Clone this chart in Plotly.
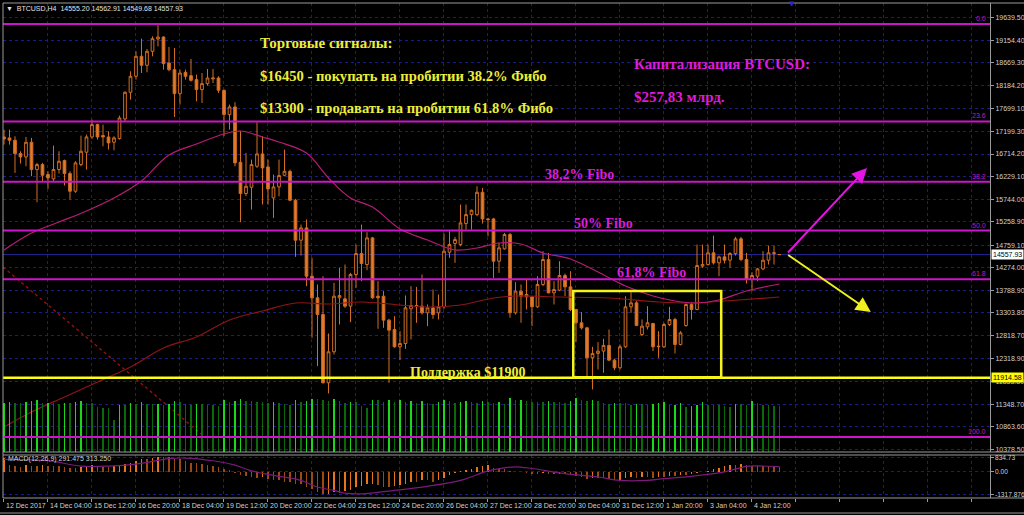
import plotly.graph_objects as go

W, H = 1024, 515
def px(x): return x / W
def py(y): return 1 - y / H

# ---------------- data ----------------
opens = [17081,17060,17010,16724,16652,16967,16381,16488,16274,16181,
         16381,16574,16295,15916,16488,16753,17081,17346,17110,17081,
         16967,17046,17467,18039,18382,18811,18618,18918,19182,19225,
         18668,18525,18010,18468,18396,18311,18096,18225,18325,18346,
         18082,17560,17725,16538,15866,16002,16452,16717,16437,15773,
         16009,16259,16344,15723,14865,15129,14093,13629,13271,11806,
         12471,13629,13607,13450,14129,14579,14343,14915,13664,13664,
         13150,12950,12578,12649,13393,13450,13450,13307,13414,13307,
         13436,14608,14794,14772,15222,15415,15415,15894,15322,15322,
         14415,14679,14987,13307,13772,13700,13650,13436,13915,14451,
         13736,13793,14108,13864,13379,13093,12985,12342,12435,12485,
         12607,12292,12128,12578,13436,13521,12842,13007,13078,12578,
         12578,13057,13164,12628,13035,13486,13379,14308,14343,14594,
         14379,14508,14436,14579,14894,14451,14022,14093,14250,14436,
         14579,14555.20]
highs = [17238,17238,17096,16774,17081,17060,16524,16524,16345,16895,
         16774,16595,16345,16560,17110,17131,17453,17367,17346,17203,
         17096,17539,18060,18489,18918,19190,18968,19240,19490,19240,
         19011,18990,18525,18525,18754,18418,18453,18539,18539,18382,
         18096,17775,17825,17203,16738,16595,17396,17096,16595,16273,
         16595,16809,16380,15751,15201,15308,14486,13915,14093,12864,
         13950,14272,14343,14165,14772,15201,15037,14937,13986,13772,
         13178,13236,12914,13679,13879,13864,14129,13486,13807,13700,
         15008,15058,14937,15630,15630,15523,16023,15987,15344,15344,
         14808,15022,15022,13965,13915,14036,13664,14093,14629,14594,
         13986,14415,14150,14200,13393,13321,13007,12578,12678,12749,
         12950,12321,12628,13664,13750,13557,13164,13450,13093,12914,
         13093,13436,13200,12914,13507,13536,14772,14772,14772,14965,
         14536,14772,14608,14937,14937,14594,14179,14272,14629,14751,
         14751,14562.91]
lows = [16917,16917,16309,16509,16452,16238,15680,16131,15966,16131,
        16295,16038,15738,15881,16452,16381,17038,17024,16881,16810,
        16795,17024,17417,17882,18311,18453,18468,18811,19025,18525,
        18489,17510,17775,18311,18268,17846,17810,18182,18239,18025,
        17096,17238,16452,15252,15809,15523,16417,15630,15630,15344,
        15808,16237,15701,14508,14536,13879,12771,12163,11790,11577,
        12414,13057,13414,13107,13843,13986,14222,13607,12964,12985,
        11806,12557,12292,12535,12735,13093,13271,13021,13178,13164,
        13393,14486,14379,14736,15094,15094,15380,15222,14951,14057,
        14165,14665,13200,13271,13093,13379,13021,13414,13879,13722,
        13486,13772,13664,13343,12678,12950,11913,11663,12092,12020,
        12271,12078,12092,12557,13307,13021,12807,12950,12485,12342,
        12557,13021,12435,12607,13007,13164,13364,14272,14322,14343,
        14093,14365,14272,14536,14415,13936,13772,13986,14222,14343,
        14343,14549.68]
closes = [17038,17010,16724,16652,16967,16381,16488,16259,16202,16381,
          16560,16295,15916,16524,16774,17081,17346,17081,17081,16953,
          17060,17489,18039,18382,18811,18618,18918,19190,19225,18654,
          18525,18010,18453,18382,18296,18096,18225,18346,18346,18082,
          17560,17725,16524,15866,16023,16488,16717,16417,15966,16009,
          16252,16344,15723,14865,15129,14093,13629,13271,11806,12471,
          13664,13679,13450,14129,14579,14365,14915,13629,13629,13150,
          12935,12578,12649,13414,13464,13464,13307,13414,13271,13436,
          14629,14772,14879,15237,15415,15508,15894,15322,15308,14415,
          14701,14987,13307,13772,13664,13650,13436,13915,14451,13736,
          13807,14108,13864,13379,13093,12985,12342,12435,12485,12607,
          12292,12128,12578,13436,13521,13035,13021,13093,12578,12590,
          13057,13164,12628,12878,13486,13379,14322,14343,14594,14379,
          14508,14436,14579,14894,14451,14022,14108,14250,14436,14594,
          14594,14557.93]
volumes = [1184,1200,1176,1176,1200,1224,1240,1176,1184,1184,
           1160,1176,1176,1200,1224,1184,1184,1080,1064,1064,
           760,1120,1120,1176,1160,1200,1160,1144,1160,1120,
           1144,1224,1200,1160,1136,1160,1160,1136,1120,1104,
           1240,1200,1216,1264,1216,1216,1200,1200,1184,1200,
           1184,1160,1120,1240,1200,1216,1280,1264,1240,1216,
           1272,1216,1184,1200,1200,1104,1064,1240,1240,1200,
           1240,1200,1240,1200,1216,1176,1216,1176,1160,1200,
           1240,1216,1184,1200,1216,1200,1176,1216,1200,1184,
           1200,1160,1296,1240,1256,1216,1200,1200,1200,1216,
           1200,1200,1184,1216,1296,1240,1216,1240,1216,1176,
           1160,1176,1176,1176,1120,1160,1160,1136,1160,1184,
           1192,1120,1136,1184,1080,1104,1120,1200,1136,1120,
           1120,1104,1080,1160,1160,1136,1216,1184,1136,1120,
           1104,1096]
macd_hist = [795,397,338,298,397,338,338,397,338,338,
             338,298,238,238,298,338,397,338,298,298,
             338,397,457,537,656,735,735,795,894,854,
             854,735,735,656,537,497,457,397,338,298,
             199,139,-60,-199,-258,-298,-338,-298,-397,-457,
             -497,-596,-596,-735,-735,-894,-994,-1192,-1318,-1290,
             -1190,-1252,-1133,-1053,-894,-854,-735,-695,-795,-894,
             -894,-854,-795,-695,-596,-596,-497,-497,-596,-497,
             -338,-199,-60,60,139,199,298,338,397,258,
             199,199,60,20,10,-60,-99,-99,-60,-99,
             -139,-99,-139,-199,-258,-298,-397,-338,-338,-338,
             -397,-497,-457,-338,-298,-338,-298,-298,-338,-298,
             -298,-258,-258,-199,-199,-139,-60,10,60,199,
             258,338,397,397,457,397,338,338,338,338,
             338,291.475]
signal_x = [0,8,14,19,24,30,33,38,42,45,49,54,57,60,62,65,71,77,83,88,91,93,96,102,108,112,117,120,125,131,135,137,141]
signal_v = [735,660,340,340,460,775,815,656,400,60,-200,-500,-890,-1090,-1250,-1290,-1090,-850,-500,60,240,300,200,-100,-300,-500,-500,-400,-260,0,330,350,313.25]

ma_fast_x = [0,5,10,15,20,25,30,35,40,43,47,50,55,59,63,67,72,77,82,86,90,94,98,103,108,113,118,122,126,130,135,141]
ma_fast_v = [14655,15020,15256,15492,15771,16136,16693,16930,17144,17208,17080,16972,16736,16200,15771,15578,15106,14870,14655,14698,14805,14784,14591,14462,14183,13883,13668,13561,13518,13582,13775,13925]
ma_slow_x = [0,5,11,17,23,29,35,41,47,53,59,65,71,77,83,89,93,101,110,119,125,131,141]
ma_slow_v = [10857,11179,11501,11823,12144,12552,12788,13153,13346,13518,13496,13539,13486,13432,13475,13625,13668,13646,13625,13539,13518,13561,13646]

trend_x = [-0.18, 36.5]
trend_v = [14290, 10642]

fibo_levels = ["0.0", "23.6", "38.2", "50.0", "61.8", "100.0"]
fibo_prices = [19504, 17413, 16119, 15073, 14027, 10642]
support_price = 11914.58
last_price = 14557.93
box_x = [103.5, 130.4]
box_y = [11925, 13775]
arrow_up = [(142.3, 14569), (156.9, 16414)]
arrow_down = [(142.3, 14569), (157.6, 13325)]

price_ticks = [19639.50,19154.40,18669.30,18184.20,17699.10,17199.30,16714.20,16229.10,15744.00,15258.90,
               14759.10,14274.00,13788.90,13303.80,12818.70,12318.90,11833.80,11348.70,10863.60,10378.50]
macd_ticks = [834.73, 0.0, -1317.876]
macd_ticktext = ["834.73", "0.00", "-1317.876"]
date_idx = [0,8,16,24,32,40,48,56,64,72,80,88,96,104,112,120,128,136]
date_text = ["12 Dec 2017","14 Dec 04:00","15 Dec 12:00","16 Dec 20:00","18 Dec 04:00","19 Dec 12:00",
             "20 Dec 20:00","22 Dec 04:00","23 Dec 12:00","24 Dec 20:00","26 Dec 04:00","27 Dec 12:00",
             "28 Dec 20:00","30 Dec 04:00","31 Dec 12:00","1 Jan 20:00","3 Jan 04:00","4 Jan 12:00"]

# ---------------- styling ----------------
n = len(opens)
idx = list(range(n))
X0, X1 = -0.18, 179.27
TICK_OFF = -0.15
grid_vals = [k * 8 + TICK_OFF for k in range(0, 23)]
GRID = "#1c1c86"
AX = "#9a9a9a"
TXT = "#d0d0d0"
SMALL = dict(family="Liberation Sans", size=7, color=TXT)

vol_colors = ["#18d818" if (i == 0 or volumes[i] > volumes[i - 1]) else "#0a6a0a" for i in range(n)]
macd_colors = ["#e8741c" if (i == 0 or macd_hist[i] > macd_hist[i - 1]) else "#9a4a12" for i in range(n)]

fig = go.Figure()
fig.add_trace(go.Bar(x=idx, y=volumes, xaxis="x", yaxis="y3", width=0.32,
                     marker=dict(color=vol_colors, line=dict(width=0)), showlegend=False))
fig.add_trace(go.Scatter(x=trend_x, y=trend_v, mode="lines", xaxis="x", yaxis="y",
                         line=dict(color="#a01010", width=1.3, dash="3px,3px"), showlegend=False))
fig.add_trace(go.Scatter(x=ma_slow_x, y=ma_slow_v, mode="lines", line_shape="spline",
                         line=dict(color="#8e1418", width=1.2), showlegend=False))
fig.add_trace(go.Scatter(x=ma_fast_x, y=ma_fast_v, mode="lines", line_shape="spline",
                         line=dict(color="#b81c78", width=1.2), showlegend=False))
fig.add_trace(go.Candlestick(x=idx, open=opens, high=highs, low=lows, close=closes,
                             xaxis="x", yaxis="y", whiskerwidth=0,
                             increasing=dict(line=dict(color="#d26e24", width=1), fillcolor="#000000"),
                             decreasing=dict(line=dict(color="#d26e24", width=1), fillcolor="#e27a2e"),
                             showlegend=False))
fig.add_trace(go.Bar(x=idx, y=macd_hist, xaxis="x2", yaxis="y2", width=0.32,
                     marker=dict(color=macd_colors, line=dict(width=0)), showlegend=False))
fig.add_trace(go.Scatter(x=signal_x, y=signal_v, mode="lines", xaxis="x2", yaxis="y2", line_shape="spline",
                         line=dict(color="#7a1a7a", width=1.2), showlegend=False))

main_dom = [py(452), py(3)]
macd_dom = [py(498), py(455)]
xdom = [px(3), px(990)]

fig.update_layout(
    width=W, height=H, margin=dict(l=0, r=0, t=0, b=0),
    paper_bgcolor="#000000", plot_bgcolor="#000000",
    showlegend=False, bargap=0, hovermode=False,
    xaxis=dict(domain=xdom, range=[X0, X1], anchor="y", showticklabels=False,
               tickvals=grid_vals, showgrid=True, gridcolor=GRID, griddash="3px,3px", gridwidth=1,
               zeroline=False, showline=False, rangeslider=dict(visible=False), fixedrange=True),
    yaxis=dict(domain=main_dom, range=[10320.6, 19955], side="right", anchor="x",
               tickvals=price_ticks, ticktext=[f"{v:.2f}" for v in price_ticks],
               tickfont=SMALL, ticks="outside", ticklen=3, tickcolor=AX,
               showgrid=True, gridcolor=GRID, griddash="3px,3px", gridwidth=1,
               zeroline=False, showline=True, linecolor=AX, linewidth=1, automargin=False),
    yaxis3=dict(overlaying="y", range=[0, 10776], visible=False, anchor="x"),
    xaxis2=dict(domain=xdom, range=[X0, X1], anchor="y2", showticklabels=False,
                tickvals=grid_vals, showgrid=True, gridcolor=GRID, griddash="3px,3px",
                ticks="outside", ticklen=3, tickcolor=AX,
                zeroline=False, showline=False, fixedrange=True),
    yaxis2=dict(domain=macd_dom, range=[-1536, 994], side="right", anchor="x2",
                tickvals=macd_ticks, showticklabels=False,
                ticks="outside", ticklen=3, tickcolor=AX,
                showgrid=True, gridcolor=GRID, griddash="3px,3px",
                zeroline=False, showline=True, linecolor=AX, automargin=False),
)

shapes = []
# current price line
shapes.append(dict(type="line", xref="paper", yref="y", x0=px(3), x1=px(990), y0=last_price, y1=last_price,
                   line=dict(color="#22228e", width=1), layer="below"))
# fibo lines
for p in fibo_prices:
    shapes.append(dict(type="line", xref="paper", yref="y", x0=px(3), x1=px(990), y0=p, y1=p,
                       line=dict(color="#cc14cc", width=2), layer="above"))
# support line
shapes.append(dict(type="line", xref="paper", yref="y", x0=px(3), x1=px(990), y0=support_price, y1=support_price,
                   line=dict(color="#ffff10", width=2.5), layer="above"))
# yellow box
shapes.append(dict(type="rect", xref="x", yref="y", x0=box_x[0], x1=box_x[1], y0=box_y[0], y1=box_y[1],
                   line=dict(color="#f4f41c", width=2.5), fillcolor="rgba(0,0,0,0)", layer="above"))
# frame
frame = [(3, 3, 1024, 3), (3, 3, 3, 498), (3, 452, 1024, 452), (3, 455, 1024, 455),
         (3, 498, 1024, 498), (0, 513, 1024, 513)]
for x0, y0, x1, y1 in frame:
    shapes.append(dict(type="line", xref="paper", yref="paper", x0=px(x0), y0=py(y0), x1=px(x1), y1=py(y1),
                       line=dict(color=AX, width=1), layer="above"))
fig.update_layout(shapes=shapes)

ann = []
# date labels
for i, t in zip(date_idx, date_text):
    ann.append(dict(x=i + TICK_OFF, xref="x2", y=py(505), yref="paper", text=t, showarrow=False,
                    xanchor="left", yanchor="middle", font=SMALL, xshift=1))
# macd axis labels
for v, t in zip(macd_ticks, macd_ticktext):
    ann.append(dict(x=px(993), xref="paper", y=v, yref="y2", text=t, showarrow=False,
                    xanchor="left", yanchor="middle", font=dict(family="Liberation Sans", size=6.6, color=TXT)))
# fibo level labels
for lab, p in zip(fibo_levels, fibo_prices):
    ann.append(dict(x=px(988), xref="paper", y=p, yref="y", text=lab, showarrow=False,
                    xanchor="right", yanchor="bottom", font=dict(family="Liberation Sans", size=7, color="#c414c4")))
# right-axis highlighted labels
ann.append(dict(x=px(991), xref="paper", y=last_price, yref="y", text=f"{last_price:.2f}", showarrow=False,
                xanchor="left", yanchor="middle", bgcolor="#ffffff", borderpad=1,
                font=dict(family="Liberation Sans", size=7, color="#000000")))
ann.append(dict(x=px(991), xref="paper", y=support_price, yref="y", text=f"{support_price:.2f}", showarrow=False,
                xanchor="left", yanchor="middle", bgcolor="#ffff00", borderpad=1,
                font=dict(family="Liberation Sans", size=7, color="#000000")))
# header & macd label
ann.append(dict(x=px(4), xref="paper", y=py(8), yref="paper", showarrow=False, xanchor="left", yanchor="middle",
                text="▼  BTCUSD,H4  14555.20 14562.91 14549.68 14557.93",
                font=dict(family="Liberation Sans", size=7, color="#e0e0e0")))
ann.append(dict(x=px(6), xref="paper", y=py(459), yref="paper", showarrow=False, xanchor="left", yanchor="middle",
                text="MACD(12,26,9) 291.475 313.250", font=SMALL))
ann.append(dict(x=px(792), xref="paper", y=py(4), yref="paper", showarrow=False, xanchor="center", yanchor="middle",
                text="▼", font=dict(family="DejaVu Sans", size=7, color="#2a2ad0")))

YEL = "#eded3a"
MAG = "#dc1cdc"
SERIF = "Liberation Serif"
def big(x, y, t, c, s=15):
    ann.append(dict(x=px(x), xref="paper", y=py(y), yref="paper", text=f"<b>{t}</b>", showarrow=False,
                    xanchor="left", yanchor="middle", font=dict(family=SERIF, size=s, color=c)))
big(258, 43, "Торговые сигналы:", YEL)
big(258, 76, "$16450 - покупать на пробитии 38.2% Фибо", YEL, 14.6)
big(258, 108, "$13300 - продавать на пробитии 61.8% Фибо", YEL, 14.6)
big(632, 64, "Капитализация BTCUSD:", MAG)
big(632, 97, "$257,83 млрд.", MAG)
big(543, 174, "38,2% Fibo", MAG, 14)
big(572, 223, "50% Fibo", MAG, 14)
big(615, 272, "61,8% Fibo", MAG, 14)
big(408, 372, "Поддержка $11900", YEL, 14)

# arrows
for (s, e), col in ((arrow_up, "#e414e4"), (arrow_down, "#f0f020")):
    ann.append(dict(x=e[0], y=e[1], xref="x", yref="y", ax=s[0], ay=s[1], axref="x", ayref="y",
                    text="", showarrow=True, arrowhead=2, arrowsize=1.5, arrowwidth=2, arrowcolor=col))
fig.update_layout(annotations=ann)

fig.write_html("out.html", config={"displayModeBar": False, "staticPlot": True},
               post_script="document.body.style.margin='0';document.body.style.overflow='hidden';")
